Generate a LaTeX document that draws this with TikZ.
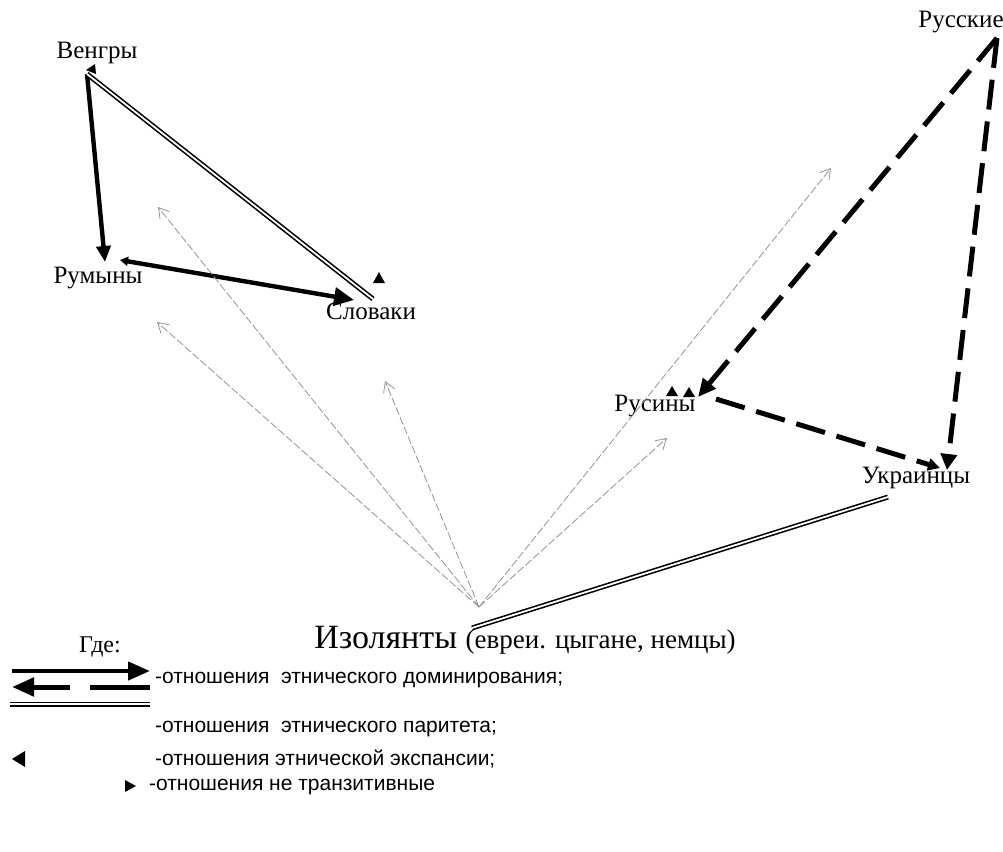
\documentclass[tikz,border=0pt]{standalone}
\usepackage{fontspec}
\setmainfont{Liberation Serif}
\newfontfamily\legfont{Liberation Sans}
\usetikzlibrary{arrows.meta}

\tikzset{
	lbl/.style={font=\fontsize{12.5}{14}\selectfont},
	domline/.style={line width=2.2pt},
	domdash/.style={line width=2.5pt,dash pattern=on 15pt off 6pt},
	parline/.style={draw=black,line width=0.8pt,double=white,double distance=0.9pt},
	isoline/.style={gray!85,line width=0.4pt,dash pattern=on 4pt off 1.2pt,-{Straight Barb[length=5pt,width=6pt]}},
	legtext/.style={anchor=west,font=\legfont\fontsize{10.5}{12}\selectfont},
}

\begin{document}
\begin{tikzpicture}[x=0.5pt,y=-0.5pt]
				\useasboundingbox (0,0) rectangle (1003,852);
				% groups
				\node[lbl] (hun) at (97,53) {Венгры};
				\node[lbl] (rom) at (98,278) {Румыны};
				\node[lbl] (slo) at (371,311) {Словаки};
				\node[lbl] (rus) at (961,22) {Русские};
				\node[lbl] (rsn) at (655,406) {Русины};
				\node[lbl] (ukr) at (916,478) {Украинцы};
				\node (iso) at (525,640) {\fontsize{17}{20}\selectfont Изолянты \fontsize{13.5}{15}\selectfont(евреи. цыгане, немцы)};

				\coordinate (hunP) at (87,74);
				\coordinate (romA) at (105,262);
				\coordinate (romB) at (120,260);
				\coordinate (sloA) at (354,300);
				\coordinate (sloB) at (373,299);
				\coordinate (rusP) at (997,38);
				\coordinate (rsnA) at (698,397);
				\coordinate (rsnB) at (716,399);
				\coordinate (ukrA) at (940,468);
				\coordinate (ukrB) at (947,470);
				\coordinate (ukrC) at (888,497);
				\coordinate (isoP) at (479,607);
				\coordinate (isoQ) at (472,628);

				% domination
				\draw[domline,-{Triangle[length=8pt,width=7pt]}] (hunP)--(romA);
				\draw[domline,{Triangle[length=4pt,width=4.5pt]}-{Triangle[length=10pt,width=9pt]}] (romB)--(sloA);
				\draw[domdash,-{Triangle[length=9pt,width=8pt]}] (rusP)--(rsnA);
				\draw[domdash,-{Triangle[length=8pt,width=8pt]}] (rusP)--(ukrB);
				\draw[domdash,-{Triangle[length=6pt,width=6pt]}] (rsnB)--(ukrA);

				% parity
				\draw[parline] (hunP)--(sloB);
				\draw[parline] (ukrC)--(isoQ);

				% expansion marks
				\fill (86,70)--(95,64)--(96,74)--cycle;
				\fill (379,272)--(385,283)--(373,283)--cycle;
				\fill (672,386)--(678,396)--(666,396)--cycle;
				\fill (689,387)--(695,397)--(683,397)--cycle;

				% isolates
				\foreach \p in {(157,322),(158,207),(385,381),(831,168),(667,438)}
					\draw[isoline] (isoP)--\p;

				% legend
				\node[font=\fontsize{12}{14}\selectfont] (where) at (100,647) {Где:};
				\draw[domline,-{Triangle[length=11pt,width=9pt]}] (12,671)--(150,671);
				\draw[domdash,dash pattern=on 30pt off 10pt,-{Triangle[length=11pt,width=9pt]}] (150,687)--(12,687);
				\node[legtext] (l1) at (148,680) {-отношения \ этнического доминирования;};
				\draw[parline] (10,704)--(150,704);
				\node[legtext] (l2) at (148,729) {-отношения \ этнического паритета;};
				\fill (12,759)--(25,751)--(25,767)--cycle;
				\node[legtext] (l3) at (148,759) {-отношения этнической экспансии;};
				\fill (136,786)--(125,780)--(125,792)--cycle;
				\node[legtext] (l4) at (142,787) {-отношения не транзитивные};
			\end{tikzpicture}
\end{document}
